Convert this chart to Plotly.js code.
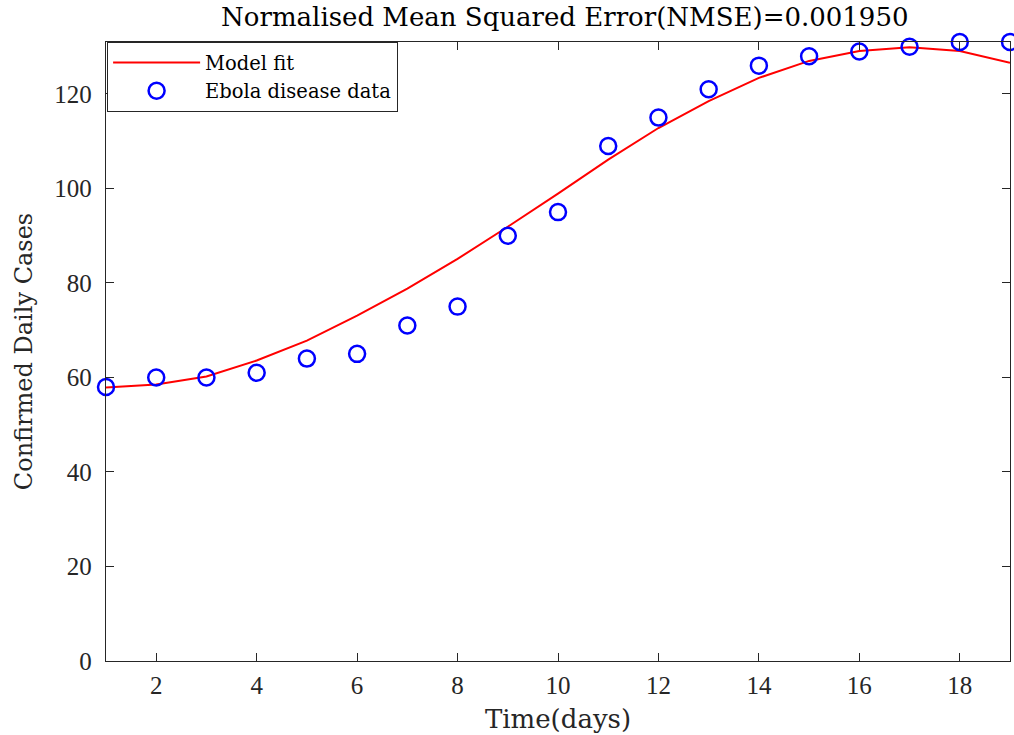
<!DOCTYPE html>
<html><head><meta charset="utf-8">
<script src="https://cdn.plot.ly/plotly-3.0.1.min.js"></script>
<style>body{margin:0;background:#fff}#c{width:1014px;height:735px}</style>
</head><body><div id="c"></div>
<script>
const days = [1,2,3,4,5,6,7,8,9,10,11,12,13,14,15,16,17,18,19];
const observed = [58,60,60,61,64,65,71,75,90,95,109,115,121,126,128,129,130,131,131];
const fitted = [57.9,58.5,60.2,63.6,67.8,73.1,78.8,85.1,91.9,98.9,106.1,112.8,118.5,123.4,127.0,129.1,129.9,129.1,126.6];
const xTicks = [2,4,6,8,10,12,14,16,18];
const yTicks = [0,20,40,60,80,100,120];

const font = {family:'"DejaVu Serif", "Liberation Serif", serif', color:'#262626'};
const tickFont = {family:'"Liberation Serif", "DejaVu Serif", serif', color:'#262626', size:25};
const traces = [
  {x:days, y:fitted, mode:'lines', name:'Model fit', line:{color:'#ff0000', width:2}},
  {x:days, y:observed, mode:'markers', name:'Ebola disease data',
   marker:{symbol:'circle-open', size:16, color:'#0000ff', line:{width:2.5, color:'#0000ff'}}, cliponaxis:false}
];
const axBase = {showgrid:false, zeroline:false, showline:true, mirror:'ticks', linecolor:'#262626', linewidth:1.2,
  ticks:'inside', ticklen:8, tickcolor:'#262626', tickfont:tickFont};
const layout = {
  width:1014, height:735,
  margin:{l:106, r:4, t:42, b:74},
  paper_bgcolor:'#fff', plot_bgcolor:'#fff',
  font:font,
  title:{text:'Normalised Mean Squared Error(NMSE)=0.001950', font:{...font, size:26, color:'#000'}, x:0.557, xanchor:'center', y:0.99, yanchor:'top'},
  xaxis:{...axBase, range:[1,19], tickvals:xTicks, ticklabelstandoff:2, title:{text:'Time(days)', font:{...font, size:26}, standoff:11}},
  yaxis:{...axBase, range:[0,131], tickvals:yTicks, ticklabelstandoff:8, title:{text:'Confirmed Daily Cases', font:{...font, size:24}, standoff:14}},
  legend:{x:0.001, y:1, xanchor:'left', yanchor:'top', bgcolor:'#fff', bordercolor:'#262626', borderwidth:1.2,
    font:{...font, size:19.5, color:'#000'}, itemwidth:87, tracegroupgap:0},
  showlegend:true
};
Plotly.newPlot('c', traces, layout, {displayModeBar:false, staticPlot:true});
</script></body></html>
